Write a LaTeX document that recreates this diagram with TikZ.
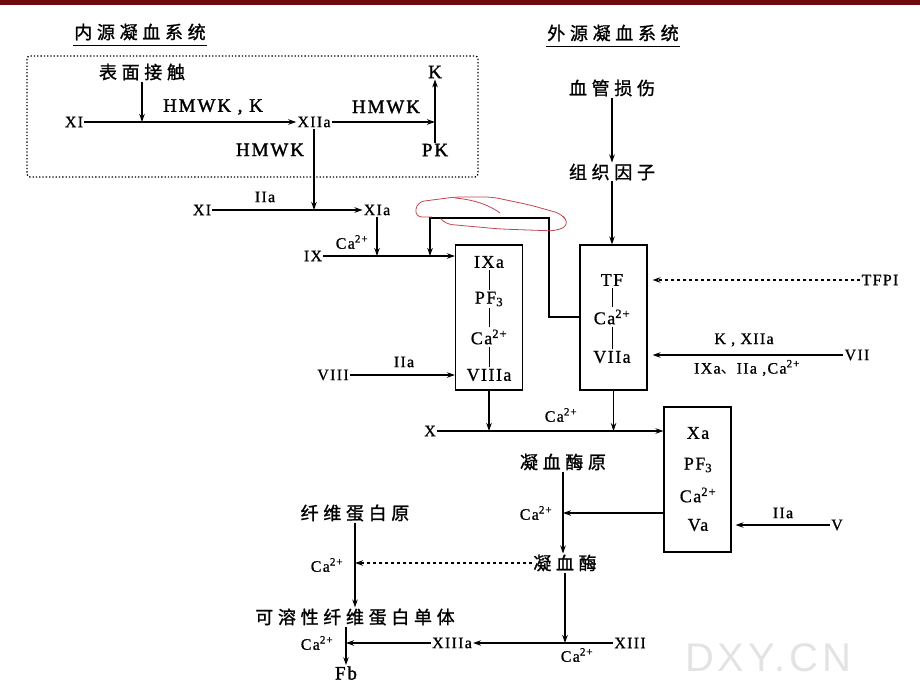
\documentclass[tikz,border=0pt]{standalone}
\usepackage{fontspec}
\setmainfont{Liberation Serif}
\newfontfamily\cjk[LetterSpace=26,FakeBold=1.2]{Noto Sans CJK SC}
\newfontfamily\cjkp{Noto Sans CJK SC}
\newfontfamily\wide[LetterSpace=8,FakeBold=0.8]{Liberation Serif}
\newfontfamily\wideb[LetterSpace=10,FakeBold=1.6]{Liberation Serif}
\newfontfamily\wmark[LetterSpace=10]{Liberation Sans}
\usetikzlibrary{arrows.meta}
\definecolor{topbar}{RGB}{110,10,10}
\definecolor{annot}{RGB}{195,70,80}
\newcommand{\caion}{Ca\textsuperscript{2+}}
\begin{document}
\begin{tikzpicture}[x=1pt,y=-1pt,
  lbl/.style={font=\wide\fontsize{16}{16}\selectfont, inner sep=1pt},
  big/.style={font=\wideb\fontsize{19}{19}\selectfont, inner sep=1pt},
  cn/.style={font=\cjk\fontsize{18}{18}\selectfont, inner sep=1pt},
  inbox/.style={font=\wide\fontsize{18}{18}\selectfont, inner sep=2pt},
  cbox/.style={draw, line width=1.1pt, minimum width=67pt, minimum height=145pt},
  arr/.style={-{Stealth[length=8pt,width=5.5pt]}, line width=1.1pt},
  bar/.style={line width=1pt}]
\useasboundingbox (0,0) rectangle (920,690);
\fill[topbar] (0,0) rectangle (920,5);

% titles
\node[cn] (t1) at (140,32) {内源凝血系统};
\draw[line width=1.3pt] ([yshift=-4pt]t1.south west) -- ([yshift=-4pt]t1.south east);
\node[cn] (t2) at (613,33) {外源凝血系统};
\draw[line width=1.3pt] ([yshift=-4pt]t2.south west) -- ([yshift=-4pt]t2.south east);

% intrinsic dotted region
\draw[dotted, line width=1.3pt, rounded corners=3pt] (27,56) rectangle (478,177);
\node[cn] (sc) at (142,72) {表面接触};
\node[lbl] (xi1) at (74,122) {XI};
\node[lbl] (xiia) at (314,122) {XIIa};
\node[big] at (213,107) {HMWK , K};
\node[big] at (386,107) {HMWK};
\node[big] at (270,150) {HMWK};
\node[big] (K) at (435,72) {K};
\node[big] (PK) at (435,150) {PK};
\coordinate (jK) at (435,122);
\draw[arr] (xi1) -- (xiia);
\draw[arr] (sc) -- (sc |- xi1);
\draw[arr] (xiia) -- (jK);
\draw[arr] (PK) -- (K);

% XI -> XIa
\node[lbl] (xi2) at (202,210) {XI};
\node[lbl] (xia) at (377,210) {XIa};
\node[lbl] at (265,197) {IIa};
\draw[arr] (xi2) -- (xia);
\draw[arr] (xiia) -- (xiia |- xi2);

% IXa complex
\node[cbox] (boxA) at (489,317.5) {};
\node[inbox] (aIX) at (489,262) {IXa};
\node[inbox] (aPF) at (489,299) {PF\textsubscript{3}};
\node[inbox] (aCa) at (489,337) {\caion};
\node[inbox] (aVIII) at (489,375) {VIIIa};
\draw[bar] (aIX) -- (aPF);
\draw[bar] (aPF) -- (aCa);
\draw[bar] (aCa) -- (aVIII);

\node[lbl] (ix) at (313,256) {IX};
\draw[arr] (ix) -- (ix -| boxA.west);
\draw[arr] (xia) -- (xia |- ix);
\node[lbl] at (352,242) {\caion};

\node[lbl] (viii) at (333,375) {VIII};
\draw[arr] (viii) -- (viii -| boxA.west);
\node[lbl] at (404,362) {IIa};

% extrinsic
\node[cn] (vi) at (612,88) {血管损伤};
\node[cn] (tf) at (612,172) {组织因子};
\node[cbox] (boxB) at (613.5,317.5) {};
\node[inbox] (bTF) at (612,280) {TF};
\node[inbox] (bCa) at (612,317) {\caion};
\node[inbox] (bVII) at (612,357) {VIIa};
\draw[bar] (bTF) -- (bCa);
\draw[bar] (bCa) -- (bVII);
\draw[arr] (vi) -- (tf);
\draw[arr] (tf) -- (tf |- boxB.north);

\node[lbl] (tfpi) at (880,280) {TFPI};
\draw[arr, dashed] (tfpi) -- ([xshift=5pt]tfpi -| boxB.east);
\node[lbl] (vii) at (857,355) {VII};
\draw[arr] (vii) -- ([xshift=5pt]vii -| boxB.east);
\node[lbl] at (744,340) {K , XIIa};
\node[lbl] at (747,368) {IXa{\cjkp 、}IIa ,\caion};

% TF complex -> IX
\coordinate (tfbend) at (549,218);
\coordinate (ixin) at (430,256);
\draw[arr] (boxB.west |- bCa) -| (tfbend) -| (ixin);

% red hand annotation
\draw[annot, line width=0.8pt, rounded corners=7pt]
  (432,217) -- (415,217) -- (417,202) -- (455,197) -- (492,197) -- (530,205)
  -- (562,214) -- (569,225) -- (556,231) -- (500,229) -- (445,224) -- (441,219);
\draw[annot, line width=0.8pt] (455,198) .. controls (478,200) and (492,207) .. (500,213);

% Xa complex
\node[cbox] (boxC) at (697.5,479.5) {};
\node[inbox] (cX) at (698,433) {Xa};
\node[inbox] (cPF) at (698,465) {PF\textsubscript{3}};
\node[inbox] (cCa) at (698,495) {\caion};
\node[inbox] (cV) at (698,525) {Va};

\node[lbl] (xnode) at (430,431) {X};
\draw[arr] (xnode) -- (xnode -| boxC.west);
\draw[arr] (boxA.south) -- (boxA.south |- xnode);
\draw[arr] (boxB.south) -- (boxB.south |- xnode);
\node[lbl] at (561,415) {\caion};

\node[lbl] (vnode) at (837,525) {V};
\draw[arr] (vnode) -- ([xshift=4pt]vnode -| boxC.east);
\node[lbl] at (783,513) {IIa};

% thrombin
\node[cn] (pro) at (563,462) {凝血酶原};
\node[cn] (thr) at (565,563) {凝血酶};
\draw[arr] (pro) -- (pro |- thr.north);
\coordinate (yCa) at (0,513);
\draw[arr] (boxC.west |- yCa) -- (pro |- yCa);
\node[lbl] at (536,513) {\caion};

% fibrin
\node[cn] (fbg) at (355,513) {纤维蛋白原};
\node[cn] (sfm) at (355,617) {可溶性纤维蛋白单体};
\draw[arr] (fbg) -- (fbg |- sfm.north);
\draw[arr, dashed] (thr) -- (thr -| fbg);
\node[lbl] at (327,565) {\caion};

\node[lbl] (xiii) at (630,643) {XIII};
\node[lbl] (xiiia) at (452,643) {XIIIa};
\draw[arr] (thr) -- (thr |- xiii);
\draw[arr] (xiii) -- (xiiia);
\node[lbl] at (577,655) {\caion};

\node[big] (fb) at (346,673) {Fb};
\draw[arr] (xiiia) -- (xiiia -| fb);
\draw[arr] (fb |- sfm.south) -- (fb);
\node[lbl] at (317,643) {\caion};

% watermark
\node[font=\wmark\fontsize{40}{40}\selectfont, text=gray!22] at (768,658) {DXY.CN};
\end{tikzpicture}
\end{document}
